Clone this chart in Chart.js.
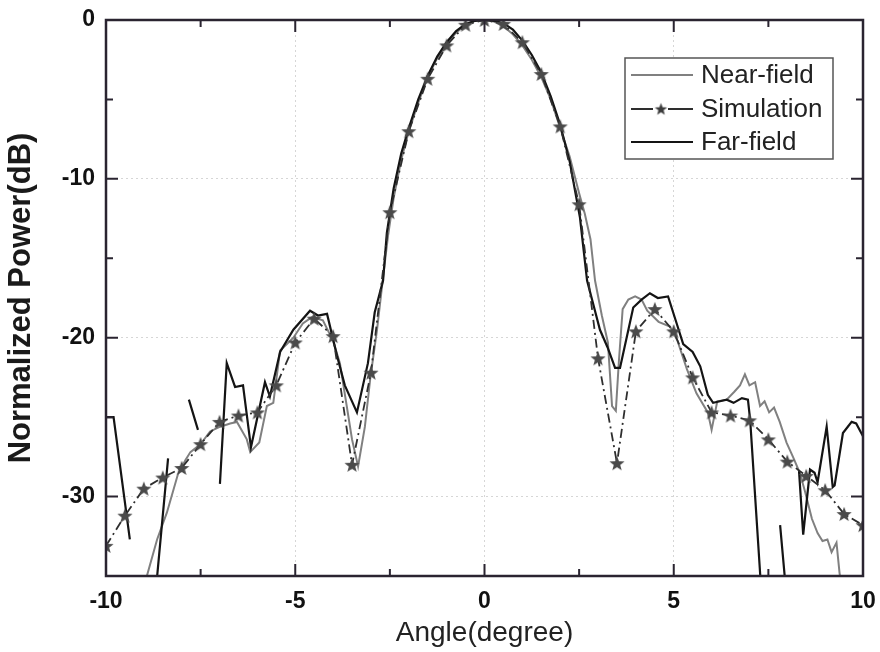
<!DOCTYPE html>
<html>
<head>
<meta charset="utf-8">
<script src="https://cdn.jsdelivr.net/npm/chart.js@4.4.1/dist/chart.umd.min.js"></script>
<style>
html,body{margin:0;padding:0;background:#fff;}
canvas{display:block;}
</style>
</head>
<body>
<canvas id="c" width="880" height="652"></canvas>
<script>
// ---------------- data ----------------
const xTickValues = [-10, -5, 0, 5, 10];
const yTickValues = [0, -10, -20, -30];

const simAngle = [-10,-9.5,-9,-8.5,-8,-7.5,-7,-6.5,-6,-5.5,-5,-4.5,-4,-3.5,-3,-2.5,-2,-1.5,-1,-0.5,0,
  0.5,1,1.5,2,2.5,3,3.5,4,4.5,5,5.5,6,6.5,7,7.5,8,8.5,9,9.5,10];
const simPower = [-33.1,-31.2,-29.5,-28.8,-28.2,-26.7,-25.3,-24.9,-24.7,-23.0,-20.3,-18.8,-19.9,-28.0,-22.2,-12.1,-7.0,-3.7,-1.6,-0.3,0,
  -0.25,-1.4,-3.4,-6.7,-11.6,-21.3,-27.9,-19.6,-18.2,-19.6,-22.5,-24.7,-24.9,-25.2,-26.4,-27.8,-28.7,-29.6,-31.1,-31.8];

const nearAngle = [-8.97,-8.92,-8.65,-8.39,-8.1,-7.9,-7.77,-7.5,-7.25,-6.98,-6.72,-6.54,-6.28,-6.19,-5.95,-5.75,-5.58,-5.4,-5.22,-5.05,
  -4.8,-4.56,-4.27,-4.0,-3.82,-3.64,-3.5,-3.34,-3.16,-3.02,-2.84,-2.68,-2.55,-2.4,-2.2,-2.0,-1.75,-1.5,-1.25,-1.0,-0.75,-0.5,-0.25,0,
  0.25,0.5,0.75,1.0,1.25,1.5,1.75,2.0,2.25,2.5,2.65,2.8,2.92,3.1,3.26,3.37,3.47,3.55,3.65,3.8,3.98,4.15,4.3,4.6,4.9,5.1,5.35,5.6,5.9,6.0,
  6.15,6.4,6.6,6.75,6.88,7.0,7.15,7.28,7.4,7.52,7.65,7.8,7.98,8.15,8.33,8.47,8.65,8.8,8.93,9.06,9.17,9.3,9.38,9.42];
const nearPower = [-35.5,-35.0,-32.7,-31.0,-28.6,-27.7,-27.2,-26.7,-25.9,-25.6,-25.4,-25.3,-26.4,-27.2,-26.6,-24.3,-24.1,-20.8,-20.4,-20.0,
  -19.1,-18.7,-18.9,-20.2,-21.6,-24.3,-26.4,-28.1,-25.6,-22.6,-19.5,-16.2,-13.6,-11.2,-8.8,-7.0,-5.2,-3.6,-2.4,-1.5,-0.8,-0.3,-0.05,0,
  -0.1,-0.4,-0.9,-1.6,-2.5,-3.6,-5.0,-6.8,-8.6,-10.9,-12.2,-13.8,-16.4,-18.6,-20.3,-24.3,-24.6,-21.5,-18.2,-17.6,-17.4,-17.6,-18.3,-19.0,-19.3,-20.2,-22.0,-23.5,-24.7,-25.8,
  -24.0,-23.9,-23.4,-23.0,-22.3,-23.0,-22.8,-24.3,-24.0,-24.7,-24.4,-25.3,-26.6,-27.5,-28.5,-29.7,-31.4,-32.3,-32.8,-32.7,-33.5,-32.9,-34.8,-35.5];

// far-field: null marks a gap in the measured trace
const farAngle = [-10,-9.8,-9.37,-9.0,-8.66,-8.36,-8.1,-7.81,-7.57,-7.3,
  -6.99,-6.81,-6.59,-6.38,-6.17,-5.8,-5.67,-5.4,-5.05,-4.61,-4.4,-4.16,-3.9,-3.69,-3.37,-3.08,-2.9,-2.68,-2.58,-2.4,-2.2,-2.0,
  -1.75,-1.5,-1.25,-1.0,-0.75,-0.5,-0.25,0,0.25,0.5,0.75,1.0,1.25,1.5,1.75,2.0,2.25,2.52,2.71,3.05,3.25,3.45,3.58,3.93,4.15,4.37,
  4.58,4.85,5.05,5.25,5.5,5.7,5.9,6.04,6.22,6.4,6.58,6.8,6.96,7.02,7.3,7.5,7.81,7.95,8.1,
  8.31,8.42,8.6,8.72,8.8,9.04,9.2,9.25,9.47,9.7,9.82,10.0];
const farPower = [-25.0,-25.0,-32.7,null,-35.3,-27.6,null,-23.9,-25.8,null,
  -29.2,-21.6,-23.1,-23.0,-26.9,-22.8,-23.7,-20.9,-19.5,-18.3,-18.6,-18.5,-21.1,-23.0,-24.7,-21.6,-18.4,-16.4,-13.4,-10.6,-8.4,-6.8,
  -5.0,-3.5,-2.3,-1.4,-0.7,-0.25,-0.05,0,-0.05,-0.2,-0.6,-1.3,-2.2,-3.3,-4.8,-6.6,-8.9,-12.4,-16.4,-19.5,-20.6,-21.9,-21.9,-18.1,-17.6,-17.2,
  -17.5,-17.4,-18.9,-20.4,-20.9,-21.8,-23.6,-24.1,-24.0,-23.9,-24.1,-23.8,-23.9,-25.2,-35.5,null,-31.8,-35.5,null,
  -28.4,-32.4,-28.3,-28.5,-29.1,-25.6,-29.4,-29.3,-26.0,-25.3,-25.4,-26.2];

const seriesLabels = ['Near-field', 'Simulation', 'Far-field'];

// ---------------- helpers ----------------
function makeStar(r, fill) {
  const s = Math.ceil(r * 2 + 2);
  const c = document.createElement('canvas');
  c.width = s; c.height = s;
  const g = c.getContext('2d');
  g.translate(s / 2, s / 2 + r * 0.08);
  g.beginPath();
  for (let i = 0; i < 10; i++) {
    const a = -Math.PI / 2 + i * Math.PI / 5;
    const rr = (i % 2) ? r * 0.42 : r;
    g.lineTo(rr * Math.cos(a), rr * Math.sin(a));
  }
  g.closePath();
  g.fillStyle = fill;
  g.fill();
  return c;
}
const starImg = makeStar(8, '#4a4a4a');
const starLegend = makeStar(6.5, '#3a3a3a');

const pts = (xs, ys) => xs.map((x, i) => ({ x: x, y: ys[i] }));

const NEAR_COLOR = '#808080';
const SIM_COLOR = '#2e2e2e';
const FAR_COLOR = '#141414';
const SIM_DASH = [9, 4, 2, 4];

// ---------------- plugins ----------------
const framePlugin = {
  id: 'frame',
  afterDraw(chart) {
    const { ctx, chartArea: a, scales } = chart;
    ctx.save();
    ctx.strokeStyle = '#2a2430';
    ctx.lineWidth = 2;
    const xs = scales.x, ys = scales.y;
    xs.ticks.forEach(t => {
      if (t.value <= -10 || t.value >= 10) return;
      const px = xs.getPixelForValue(t.value);
      const len = (t.value % 5 === 0) ? 12 : 7;
      ctx.beginPath();
      ctx.moveTo(px, a.bottom); ctx.lineTo(px, a.bottom - len);
      ctx.moveTo(px, a.top); ctx.lineTo(px, a.top + len);
      ctx.stroke();
    });
    ys.ticks.forEach(t => {
      if (t.value <= -35 || t.value >= 0) return;
      const py = ys.getPixelForValue(t.value);
      const len = (t.value % 10 === 0) ? 12 : 7;
      ctx.beginPath();
      ctx.moveTo(a.left, py); ctx.lineTo(a.left + len, py);
      ctx.moveTo(a.right, py); ctx.lineTo(a.right - len, py);
      ctx.stroke();
    });
    ctx.lineWidth = 2.5;
    ctx.strokeRect(a.left, a.top, a.right - a.left, a.bottom - a.top);
    ctx.restore();
  }
};

const legendPlugin = {
  id: 'boxLegend',
  afterDraw(chart) {
    const { ctx, chartArea: a } = chart;
    const bx = a.left + 519, by = a.top + 38, bw = 208, bh = 101;
    ctx.save();
    ctx.fillStyle = '#fff';
    ctx.fillRect(bx, by, bw, bh);
    ctx.strokeStyle = '#555';
    ctx.lineWidth = 1.5;
    ctx.strokeRect(bx, by, bw, bh);
    const rowsY = [by + 17, by + 51, by + 84];
    const x0 = bx + 6, x1 = bx + 68;
    seriesLabels.forEach((lab, r) => {
      const ds = chart.data.datasets.find(d => d.label === lab);
      const y = rowsY[r];
      ctx.strokeStyle = ds.borderColor;
      ctx.lineWidth = 2;
      ctx.setLineDash([]);
      ctx.beginPath();
      if (lab === 'Simulation') {
        ctx.moveTo(x0, y); ctx.lineTo(x0 + 22, y);
        ctx.moveTo(x1 - 25, y); ctx.lineTo(x1, y);
        ctx.stroke();
        ctx.drawImage(starLegend, x0 + 30 - starLegend.width / 2, y - starLegend.height / 2);
      } else {
        ctx.moveTo(x0, y); ctx.lineTo(x1, y);
        ctx.stroke();
      }
      ctx.fillStyle = '#222';
      ctx.font = '26px "Liberation Sans", Arial, sans-serif';
      ctx.textBaseline = 'middle';
      ctx.textAlign = 'left';
      ctx.fillText(lab, x1 + 8, y + 1);
    });
    ctx.restore();
  }
};

// ---------------- chart ----------------
const tickFont = { family: '"Liberation Sans", Arial, sans-serif', size: 23, weight: 'bold' };

new Chart(document.getElementById('c'), {
  type: 'line',
  data: {
    datasets: [
      {
        label: seriesLabels[1],
        data: pts(simAngle, simPower),
        borderColor: SIM_COLOR,
        borderWidth: 1.8,
        borderDash: SIM_DASH,
        pointStyle: starImg,
        pointRadius: 8,
        pointHoverRadius: 8,
        fill: false,
        tension: 0
      },
      {
        label: seriesLabels[2],
        data: pts(farAngle, farPower),
        borderColor: FAR_COLOR,
        borderWidth: 2.2,
        pointRadius: 0,
        spanGaps: false,
        fill: false,
        tension: 0
      },
      {
        label: seriesLabels[0],
        data: pts(nearAngle, nearPower),
        borderColor: NEAR_COLOR,
        borderWidth: 2,
        pointRadius: 0,
        fill: false,
        tension: 0
      }
    ]
  },
  options: {
    responsive: false,
    animation: false,
    devicePixelRatio: 1,
    layout: { padding: { left: 0, top: 20, right: 17, bottom: 0 } },
    plugins: { legend: { display: false }, tooltip: { enabled: false } },
    scales: {
      x: {
        type: 'linear',
        min: -10, max: 10,
        afterFit: s => { s.height = 76; s.paddingLeft = 0; s.paddingRight = 0; },
        ticks: {
          stepSize: 2.5,
          autoSkip: false,
          maxRotation: 0,
          padding: 12,
          color: '#111',
          font: tickFont,
          callback: v => (xTickValues.includes(v) ? String(v) : '')
        },
        grid: {
          drawTicks: false,
          lineWidth: 1,
          color: c => (c.tick && c.tick.value % 5 === 0 && Math.abs(c.tick.value) !== 10) ? '#d6d6d6' : 'rgba(0,0,0,0)'
        },
        border: { display: false, dash: [2, 3] },
        title: {
          display: true,
          text: 'Angle(degree)',
          color: '#222',
          font: { family: '"Liberation Sans", Arial, sans-serif', size: 28, weight: 'normal' },
          padding: { top: 0, bottom: 2 }
        }
      },
      y: {
        type: 'linear',
        min: -35, max: 0,
        afterFit: s => { s.width = 106; s.paddingTop = 0; s.paddingBottom = 0; },
        ticks: {
          stepSize: 5,
          autoSkip: false,
          padding: 11,
          color: '#111',
          font: tickFont,
          callback: v => (yTickValues.includes(v) ? String(v) : '')
        },
        grid: {
          drawTicks: false,
          lineWidth: 1,
          color: c => (c.tick && c.tick.value % 10 === 0 && c.tick.value !== 0) ? '#d6d6d6' : 'rgba(0,0,0,0)'
        },
        border: { display: false, dash: [2, 3] },
        title: {
          display: true,
          text: 'Normalized Power(dB)',
          color: '#1a1a1a',
          font: { family: '"Liberation Sans", Arial, sans-serif', size: 31, weight: 'bold' },
          padding: { top: 3, bottom: 0 }
        }
      }
    }
  },
  plugins: [framePlugin, legendPlugin]
});
</script>
</body>
</html>
